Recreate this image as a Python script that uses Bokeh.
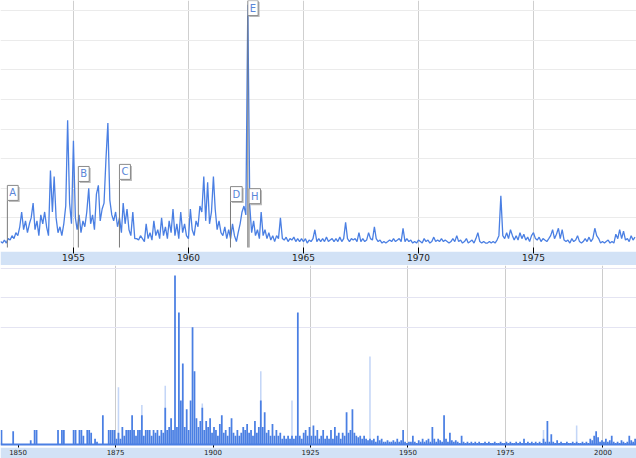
import numpy as np
import pandas as pd
from bokeh.plotting import figure
from bokeh.layouts import column
from bokeh.models import Range1d, FixedTicker, Span, ColumnDataSource, DatetimeTickFormatter
from bokeh.embed import file_html
from bokeh.resources import INLINE
from bokeh.core.properties import value

# ---------------- data ----------------
# upper chart: monthly values, starting Nov 1951
top_start = "1951-11-01"
top_values = [
    2, 1.5, 2.5, 1.5, 3, 2.5, 4, 3, 5, 4, 7, 12,
    6, 9, 5, 8, 10, 15, 6, 9, 4, 11, 8, 12,
    7, 4, 26, 12, 24, 10, 5, 7, 4, 8, 14, 43,
    15, 8, 36, 10, 6, 11, 5, 9, 7, 12, 20, 8,
    11, 6, 18, 21, 9, 13, 15, 30, 42, 16, 11, 9,
    12, 7, 10, 5, 15, 8, 13, 6, 4, 12, 3, 3,
    2.5, 4, 3, 2, 8, 3, 5, 2.5, 9, 4, 6, 3,
    10, 4, 7, 3, 9, 5, 13, 4, 8, 3, 12, 5,
    8, 4, 3, 13, 6, 4, 9, 7, 14, 12, 24, 9,
    22, 8, 12, 24, 13, 6, 9, 5, 4, 7, 3, 6,
    3, 8, 4, 2, 5, 8, 12, 14, 11, 82, 14, 5,
    9, 4, 6, 3, 12, 4, 6, 3, 5, 2.5, 4, 2,
    4, 3, 10, 3, 2.5, 3.5, 2, 3, 2.5, 3.5, 2, 3,
    2, 3, 2, 3, 1.5, 2.5, 2, 3, 6, 2, 3, 2,
    3, 2, 3.5, 2, 2.5, 3, 2, 3, 2, 3.5, 2, 3,
    8.5, 3, 2, 3, 2.5, 3, 2, 5, 2, 3, 2, 2.5,
    5, 3, 2.5, 7, 3, 2, 2.5, 1.5, 2, 1.5, 2, 2.5,
    2, 3, 2, 2.5, 3, 2, 6.5, 2, 3, 2, 2.5, 1.5,
    2, 1.5, 2.5, 2, 1.5, 3, 2, 2.5, 1.5, 2, 3.5, 2,
    2.5, 2, 3, 2, 2.5, 2, 1.5, 2, 3, 2, 4, 2,
    2.5, 1.5, 2, 3, 1.5, 2, 2.5, 1.5, 3, 5, 2, 1.5,
    2, 1.5, 1.5, 2, 1.5, 2, 1.5, 2.5, 4, 17.5, 4, 3,
    5, 3, 6, 4, 2.5, 4, 2.5, 5, 3, 4.5, 2.5, 3.5,
    2, 4, 5, 3, 2.5, 3.5, 2, 3, 2.5, 2, 3, 4,
    6, 3, 4.5, 6.5, 3, 6, 2.5, 2, 2.5, 1.5, 3, 2,
    2.5, 4, 2, 1.5, 2, 3, 2, 3.5, 2, 3, 6.5, 4,
    3, 1.5, 2, 1.5, 2, 2.5, 1.5, 2, 1.5, 4.5, 3, 6,
    3, 5.5, 2.5, 3, 2, 4, 2.5, 3.5,
]
top_tick_years = [1955, 1960, 1965, 1970, 1975]
top_grid_levels = [10, 20, 30, 40, 50, 60, 70, 80]

flag_labels = ["A", "B", "C", "D", "E", "H"]
flag_dates = ["1952-02-17", "1955-03-20", "1957-01-01", "1961-10-30", "1962-08-01", "1962-08-20"]
flag_levels = [15.9, 22.3, 23.0, 15.5, 78.3, 14.8]

# lower chart: half-year bins starting 1845.5
bottom_start = 1845.5
bottom_values = [
    0.5, 0, 0, 0, 0, 0, 0.45, 0, 0, 0,
    0, 0, 0, 0, 0, 0.15, 0, 0.5, 0.5, 0,
    0, 0, 0, 0, 0, 0, 0, 0, 0, 0.5,
    0, 0.5, 0.5, 0, 0, 0, 0, 0.5, 0.5, 0,
    0.5, 0.5, 0.3, 0, 0.5, 0.5, 0.4, 0, 0.2, 0.1,
    0, 0, 1.0, 0, 0, 0.5, 0.5, 0.5, 0.5, 0.2,
    0.4, 0.2, 0.6, 0.3, 0.5, 0.5, 0.5, 1.0, 0.5, 0.3,
    0.5, 0.5, 1.0, 0.3, 0.5, 0.5, 0.5, 0.3, 0.5, 0.4,
    0.5, 0.3, 0.5, 0.4, 1.25, 0.5, 0.6, 0.9, 0.5, 5.76,
    0.6, 4.5, 1.5, 2.76, 0.6, 1.2, 0.5, 1.5, 4.0, 2.5,
    0.9, 0.6, 0.8, 1.25, 0.5, 0.8, 0.6, 0.9, 0.4, 0.6,
    0.5, 0.3, 0.7, 1.0, 0.4, 0.5, 0.3, 0.6, 0.9, 0.4,
    0.3, 0.5, 0.3, 0.4, 0.6, 0.5, 0.7, 0.4, 0.5, 0.3,
    0.8, 0.4, 0.6, 1.5, 0.6, 1.1, 0.4, 0.5, 0.3, 0.7,
    0.3, 0.5, 0.3, 0.4, 0.2, 0.3, 0.2, 0.3, 0.2, 0.3,
    0.2, 0.3, 4.5, 0.3, 0.2, 0.4, 0.5, 0.3, 0.6, 0.3,
    0.65, 0.3, 0.5, 0.2, 0.3, 0.5, 0.2, 0.3, 0.2, 0.5,
    0.2, 0.6, 0.3, 0.4, 0.2, 0.4, 0.3, 1.1, 0.4, 0.5,
    1.2, 0.4, 0.3, 0.25, 0.3, 0.2, 0.3, 0.2, 0.15, 0.2,
    0.15, 0.2, 0.1, 0.3, 0.15, 0.2, 0.1, 0.1, 0.15, 0.1,
    0.1, 0.15, 0.1, 0.2, 0.1, 0.15, 0.5, 0.1, 0.05, 0.1,
    0.1, 0.3, 0.1, 0.05, 0.15, 0.1, 0.2, 0.1, 0.15, 0.2,
    0.1, 0.6, 0.2, 0.1, 0.2, 0.15, 0.1, 1.0, 0.2, 0.1,
    0.4, 0.15, 0.1, 0.15, 0.1, 0.05, 0.3, 0.1, 0.05, 0.1,
    0.05, 0.1, 0.05, 0.1, 0.05, 0.1, 0.05, 0.05, 0.1, 0.05,
    0.1, 0.05, 0.05, 0.1, 0.05, 0.05, 0.1, 0.05, 0.05, 0.1,
    0.05, 0.1, 0.05, 0.05, 0.1, 0.05, 0.1, 0.05, 0.2, 0.05,
    0.1, 0.05, 0.1, 0.05, 0.1, 0.05, 0.1, 0.05, 0.2, 0.1,
    0.8, 0.1, 0.35, 0.1, 0.05, 0.15, 0.05, 0.1, 0.05, 0.05,
    0.1, 0.05, 0.05, 0.1, 0.05, 0.1, 0.05, 0.05, 0.1, 0.05,
    0.1, 0.05, 0.2, 0.15, 0.3, 0.45, 0.25, 0.1, 0.15, 0.1,
    0.2, 0.1, 0.15, 0.3, 0.1, 0.05, 0.1, 0.05, 0.15, 0.1,
    0.05, 0.1, 0.3, 0.15, 0.1, 0.2,
]
light_years = [1875.75, 1881.75, 1887.75, 1897.25, 1912.25, 1920.25, 1940.25, 1984.75, 1993.25]
light_values = [1.95, 1.35, 2.0, 1.4, 2.5, 1.5, 3.0, 0.5, 0.65]
bottom_tick_years = [1850, 1875, 1900, 1925, 1950, 1975, 2000]
bottom_grid_years = [1875, 1925, 1950, 1975, 2000]
bottom_grid_levels = [4, 5, 6]

# ---------------- style ----------------
BLUE = "#4a7fe3"
BAND = "#d2e2f6"
FONT = "DejaVu Sans"
W = 636

# ---------------- upper chart ----------------
top_dates = pd.date_range(top_start, periods=len(top_values), freq="MS")
src_top = ColumnDataSource(dict(x=top_dates, y=top_values))

p1 = figure(width=W, height=265, x_axis_type="datetime", y_axis_location=None,
            output_backend="svg", toolbar_location=None,
            x_range=Range1d(pd.Timestamp("1951-10-31"), pd.Timestamp("1979-06-25")),
            y_range=Range1d(-1.35, 83.4),
            min_border_left=0, min_border_right=0, min_border_top=0, min_border_bottom=14)
p1.border_fill_color = BAND
p1.background_fill_color = "white"
p1.outline_line_color = None

tick_ms = [pd.Timestamp(f"{y}-01-01").value // 10**6 for y in top_tick_years]
p1.xaxis.ticker = FixedTicker(ticks=tick_ms)
fmt = "%Y"
p1.xaxis.formatter = DatetimeTickFormatter(years=fmt, months=fmt, days=fmt, hours=fmt,
                                           minutes=fmt, seconds=fmt, milliseconds=fmt)
p1.xaxis.axis_line_color = None
p1.xaxis.major_tick_in = 4
p1.xaxis.major_tick_out = 2
p1.xaxis.major_tick_line_color = "#000000"
p1.xaxis.minor_tick_line_color = None
p1.xaxis.major_label_text_font = FONT
p1.xaxis.major_label_text_font_size = "9px"
p1.xaxis.major_label_text_color = "#222222"
p1.xaxis.major_label_standoff = 0

p1.xgrid.ticker = FixedTicker(ticks=tick_ms)
p1.xgrid.grid_line_color = "#cfcfcf"
p1.ygrid.ticker = FixedTicker(ticks=top_grid_levels)
p1.ygrid.grid_line_color = "#ebebeb"

p1.line("x", "y", source=src_top, line_color=BLUE, line_width=1.3)

fdates = pd.to_datetime(flag_dates)
src_flags = ColumnDataSource(dict(x=fdates, y=flag_levels, y0=[0] * len(flag_levels), t=flag_labels))
p1.segment(x0="x", y0="y0", x1="x", y1="y", source=src_flags, line_color="#7a7a7a", line_width=1)
p1.text(x="x", y="y", text="t", source=src_flags, text_alpha=0,
        text_font=value(FONT), text_font_size="10px", text_align="left", text_baseline="bottom",
        x_offset=1.5, y_offset=1.5, background_fill_color="#bdbdbd", padding=2)
p1.text(x="x", y="y", text="t", source=src_flags, text_color="#5a86d8",
        text_font=value(FONT), text_font_size="10px", text_align="left", text_baseline="bottom",
        background_fill_color="white", border_line_color="#8a8a8a", padding=2)

# ---------------- lower chart ----------------
bx = bottom_start + 0.25 + 0.5 * np.arange(len(bottom_values))
src_bot = ColumnDataSource(dict(x=bx, top=bottom_values))
src_light = ColumnDataSource(dict(x=light_years, top=light_values))

p2 = figure(width=W, height=193, y_axis_location=None,
            output_backend="svg", toolbar_location=None,
            x_range=Range1d(1845.5, 2008.6), y_range=Range1d(-0.1, 6.1),
            min_border_left=0, min_border_right=0, min_border_top=0, min_border_bottom=11)
p2.border_fill_color = BAND
p2.background_fill_color = "white"
p2.outline_line_color = None

p2.xaxis.ticker = FixedTicker(ticks=bottom_tick_years)
p2.xaxis.axis_line_color = None
p2.xaxis.major_tick_in = 3
p2.xaxis.major_tick_out = 0
p2.xaxis.major_tick_line_color = "#000000"
p2.xaxis.minor_tick_line_color = None
p2.xaxis.major_label_text_font = FONT
p2.xaxis.major_label_text_font_size = "7px"
p2.xaxis.major_label_text_color = "#222222"
p2.xaxis.major_label_standoff = 1

p2.xgrid.ticker = FixedTicker(ticks=bottom_grid_years)
p2.xgrid.grid_line_color = "#cccccc"
p2.ygrid.ticker = FixedTicker(ticks=bottom_grid_levels)
p2.ygrid.grid_line_color = "#e4e4f2"

p2.vbar(x="x", top="top", bottom=0, width=0.4, source=src_light, fill_color="#c4d6f7", line_color=None)
p2.vbar(x="x", top="top", bottom=0, width=0.45, source=src_bot, fill_color=BLUE, line_color=None)
p2.add_layout(Span(location=0, dimension="width", line_color=BLUE, line_width=2))

layout = column(p1, p2, spacing=0)
open("out.html", "w").write(file_html(layout, INLINE))
